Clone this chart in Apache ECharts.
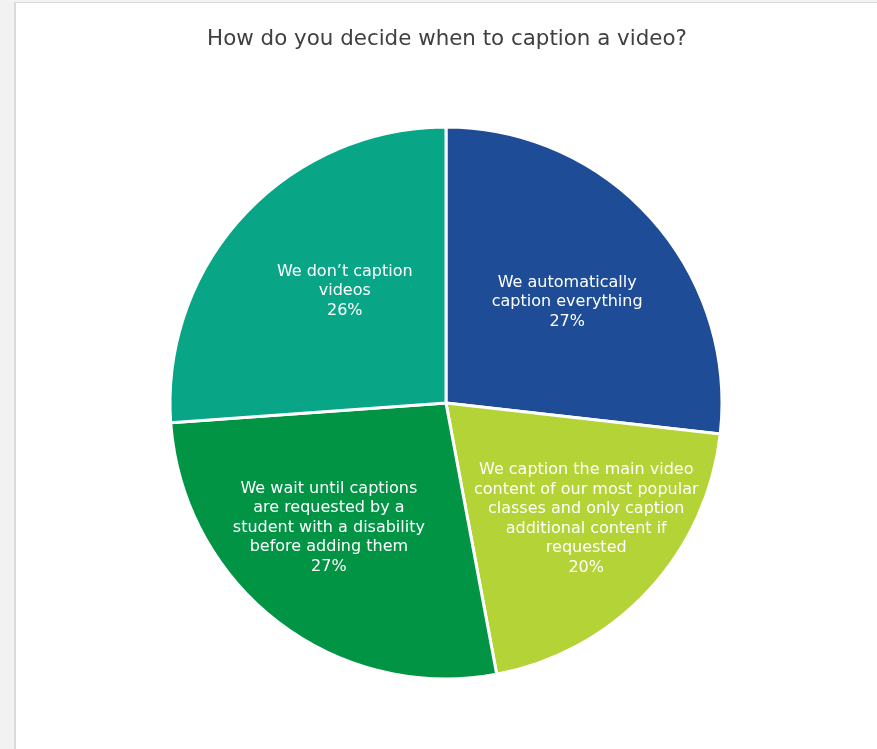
<!DOCTYPE html>
<html>
<head>
<meta charset="utf-8">
<script src="https://cdn.jsdelivr.net/npm/echarts@6/dist/echarts.min.js"></script>
<style>
html,body{margin:0;padding:0;background:#fff;}
#chart{width:877px;height:749px;}
</style>
</head>
<body>
<div id="chart"></div>
<script>
const titleText = 'How do you decide when to caption a video?';
const categories = [
  'We automatically\ncaption everything',
  'We caption the main video\ncontent of our most popular\nclasses and only caption\nadditional content if\nrequested',
  'We wait until captions\nare requested by a\nstudent with a disability\nbefore adding them',
  'We don\u2019t caption\nvideos'
];
const values = [41, 31, 41, 40];
const colors = ['#1E4C96', '#B3D337', '#009444', '#08A686'];
const labelNudge = [[16, -7], [37, 20], [-31, 13], [2, -16]];

const CX = 446, CY = 403, R = 276;

const chart = echarts.init(document.getElementById('chart'), null, {renderer: 'canvas'});
chart.setOption({
  backgroundColor: '#ffffff',
  animation: false,
  graphic: [
    {type: 'rect', shape: {x: 0, y: 0, width: 15, height: 749}, style: {fill: '#f2f2f2'}, silent: true, z: -10},
    {type: 'rect', shape: {x: 0, y: 0, width: 877, height: 2}, style: {fill: '#f2f2f2'}, silent: true, z: -10},
    {type: 'rect', shape: {x: 14, y: 2, width: 2, height: 747}, style: {fill: '#dadada'}, silent: true, z: -9},
    {type: 'rect', shape: {x: 14, y: 2, width: 863, height: 1}, style: {fill: '#dadada'}, silent: true, z: -9}
  ],
  title: {
    text: titleText,
    left: CX - 4,
    textAlign: 'center',
    top: 24,
    textStyle: {fontFamily: 'DejaVu Sans', fontSize: 21.4, fontWeight: 'normal', color: '#404040'}
  },
  series: [{
    type: 'pie',
    center: [CX, CY],
    radius: [0, R],
    startAngle: 90,
    clockwise: true,
    avoidLabelOverlap: false,
    data: categories.map((n, i) => ({name: n, value: values[i], itemStyle: {color: colors[i]}})),
    itemStyle: {borderColor: '#ffffff', borderWidth: 3},
    label: {
      show: true,
      position: 'inside',
      formatter: p => p.name + '\n' + Math.round(p.percent) + '%',
      color: '#ffffff',
      fontFamily: 'DejaVu Sans',
      fontSize: 16,
      lineHeight: 19.5,
      align: 'center'
    },
    labelLine: {show: false},
    labelLayout: function (params) {
      const r = params.labelRect;
      const n = labelNudge[params.dataIndex];
      return {x: r.x + r.width / 2 + n[0], y: r.y + r.height / 2 + n[1], align: 'center', verticalAlign: 'middle'};
    },
    emphasis: {disabled: true}
  }]
});
</script>
</body>
</html>
